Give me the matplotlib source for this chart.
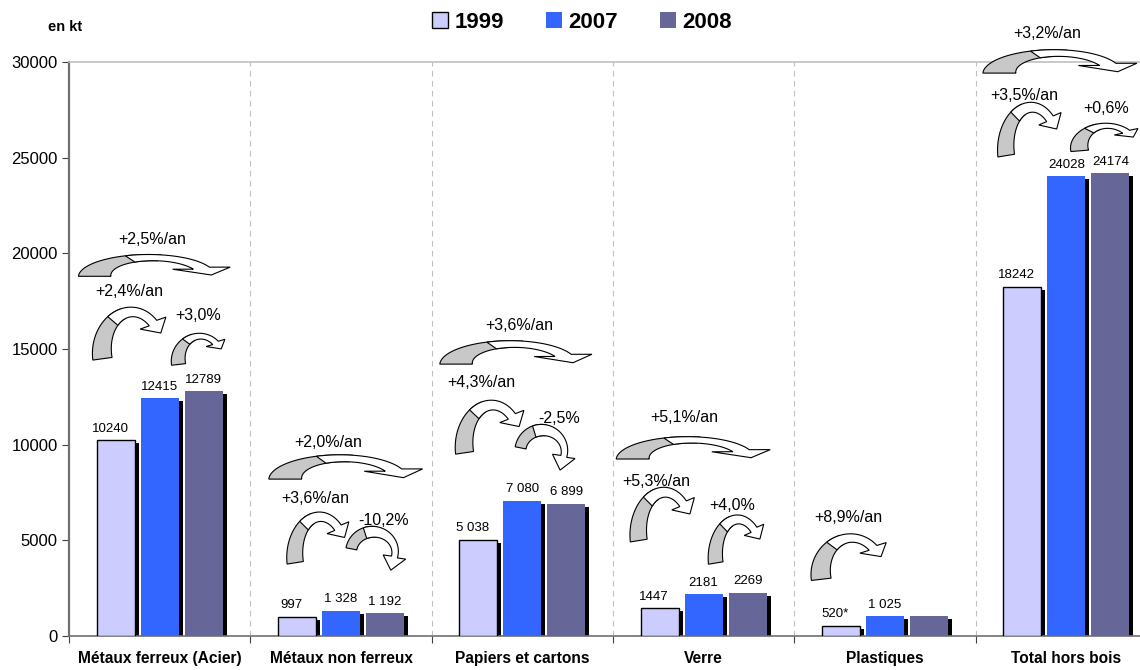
import matplotlib
matplotlib.use('Agg')
import matplotlib.pyplot as plt
import numpy as np
from matplotlib.patches import Polygon, Patch
from matplotlib.transforms import ScaledTranslation

plt.rcParams['font.family'] = ['Liberation Sans', 'DejaVu Sans']

categories = ['Métaux ferreux (Acier)', 'Métaux non ferreux', 'Papiers et cartons',
              'Verre', 'Plastiques', 'Total hors bois']
years = ['1999', '2007', '2008']
v1999 = [10240, 997, 5038, 1447, 520, 18242]
v2007 = [12415, 1328, 7080, 2181, 1025, 24028]
v2008 = [12789, 1192, 6899, 2269, 1025, 24174]
lab1999 = ['10240', '997', '5 038', '1447', '520*', '18242']
lab2007 = ['12415', '1 328', '7 080', '2181', '1 025', '24028']
lab2008 = ['12789', '1 192', '6 899', '2269', '', '24174']

# growth rates shown with the curved arrows
growth_cat = [0, 0, 0, 1, 1, 1, 2, 2, 2, 3, 3, 3, 4, 5, 5, 5]
growth_txt = ['+2,5%/an', '+2,4%/an', '+3,0%',
              '+2,0%/an', '+3,6%/an', '-10,2%',
              '+3,6%/an', '+4,3%/an', '-2,5%',
              '+5,1%/an', '+5,3%/an', '+4,0%',
              '+8,9%/an',
              '+3,2%/an', '+3,5%/an', '+0,6%']

# arrow placement: box (dx0, dx1, ybottom, ytop) relative to category, text (dx, y)
arrow_box = [(-0.44, 0.375, 18800, 20020), (-0.36, 0.055, 14270, 17300), (0.072, 0.375, 14060, 15890),
             (-0.39, 0.436, 8200, 9560), (-0.29, 0.061, 3610, 6590), (0.05, 0.353, 3450, 5800),
             (-0.447, 0.37, 14210, 15520), (-0.36, 0.028, 9350, 12440), (-0.017, 0.287, 8680, 11130),
             (-0.474, 0.353, 9250, 10500), (-0.397, -0.033, 4760, 7890), (0.033, 0.347, 3610, 6430),
             (-0.397, 0.028, 2770, 5440),
             (-0.452, 0.375, 29420, 30730), (-0.37, -0.011, 24880, 28010), (0.033, 0.414, 25240, 26860)]
arrow_kind = ['flat', 'up', 'up', 'flat', 'up', 'down', 'flat', 'up', 'down',
              'flat', 'up', 'up', 'up', 'flat', 'up', 'up']
text_pos = [(-0.04, 20700), (-0.165, 18030), (0.21, 16775),
            (-0.072, 10090), (-0.143, 7210), (0.232, 6060),
            (-0.017, 16250), (-0.226, 13270), (0.204, 11390),
            (-0.105, 11445), (-0.259, 8050), (0.16, 6795),
            (-0.204, 6170),
            (-0.105, 31510), (-0.232, 28270), (0.22, 27590)]


def arrow_shape(kind):
    # curved block arrow in a unit box: grey back part + white front with head
    if kind == 'flat':
        cx, cy, rx, ry, wx, wy = 0.48, 0.0, 0.38, 0.80, 0.11, 0.18
        t0, tg, tw, t1 = np.pi, 0.45 * np.pi, 0.62 * np.pi, 0.45
        hw, hl = 0.2, 0.3
    elif kind == 'up':
        cx, cy, rx, ry, wx, wy = 0.5, 0.2, 0.4, 0.68, 0.13, 0.12
        t0, tg, tw, t1 = 1.06 * np.pi, 0.6 * np.pi, 0.72 * np.pi, 0.8
        hw, hl = 0.2, 0.2
    else:
        cx, cy, rx, ry, wx, wy = 0.42, 0.40, 0.40, 0.45, 0.10, 0.15
        t0, tg, tw, t1 = 0.95 * np.pi, 0.45 * np.pi, 0.62 * np.pi, -0.25
        hw, hl = 0.21, 0.30

    def band(ta, tb):
        t = np.linspace(ta, tb, 40)
        f = 1 - 0.45 * (t0 - t) / (t0 - t1)
        o = np.c_[cx + (rx + wx * f) * np.cos(t), cy + (ry + wy * f) * np.sin(t)]
        i = np.c_[cx + (rx - wx * f) * np.cos(t), cy + (ry - wy * f) * np.sin(t)]
        return o, i

    o, i = band(t0, tg)
    grey = np.vstack([o, i[::-1]])
    o, i = band(tw, t1)
    c = np.array([cx + rx * np.cos(t1), cy + ry * np.sin(t1)])
    T = np.array([rx * np.sin(t1), -ry * np.cos(t1)])
    T = T / np.hypot(*T)
    N = np.array([-T[1], T[0]])
    head = np.array([c + hw * N, c + hl * T, c - hw * N])
    white = np.vstack([o, head, i[::-1]])
    return grey, white


fig = plt.figure(figsize=(11.4, 6.7), dpi=100)
ax = fig.add_axes([69 / 1140, 1 - 636 / 670, 1088 / 1140, 574 / 670])

x = np.arange(len(categories))
offs = [-0.243, 0.0, 0.243]
w = 0.21
colors = ['#CCCCFF', '#3366FF', '#666699']
shadow = ax.transData + ScaledTranslation(0.04, -0.03, fig.dpi_scale_trans)

for k, (vals, labs) in enumerate([(v1999, lab1999), (v2007, lab2007), (v2008, lab2008)]):
    ax.bar(x + offs[k], vals, w, color='black', transform=shadow, zorder=2)
    ax.bar(x + offs[k], vals, w, color=colors[k],
           edgecolor='black' if k == 0 else 'none', linewidth=1.0, zorder=3)
    for xi, v, lab in zip(x, vals, labs):
        ax.annotate(lab, (xi + offs[k], v), xytext=(-4 if k == 0 else 0, 4),
                    textcoords='offset points', ha='center', va='bottom',
                    fontsize=9.5, zorder=6)

for n in range(len(growth_txt)):
    cat = growth_cat[n]
    dx0, dx1, yb, yt = arrow_box[n]
    grey, white = arrow_shape(arrow_kind[n])
    for poly, fc in [(grey, '#C8C8C8'), (white, 'white')]:
        pts = np.c_[cat + dx0 + poly[:, 0] * (dx1 - dx0), yb + poly[:, 1] * (yt - yb)]
        ax.add_patch(Polygon(pts, closed=True, facecolor=fc, edgecolor='black',
                             linewidth=0.8, clip_on=False, zorder=4))
    tx, ty = text_pos[n]
    ax.text(cat + tx, ty, growth_txt[n], ha='center', va='center', fontsize=11.5,
            clip_on=False, zorder=6)

for b in x[:-1] + 0.5:
    ax.axvline(b, color='#C0C0C0', linestyle=(0, (5, 4)), linewidth=0.8, zorder=1)

ax.set_xlim(-0.5, 5.5)
ax.set_ylim(0, 30000)
ax.set_yticks(np.arange(0, 30001, 5000))
ax.set_xticks(np.arange(-0.5, 5.6, 1.0))
ax.set_xticklabels([])
ax.set_xticks(x, minor=True)
ax.set_xticklabels(categories, minor=True, fontsize=11.2, fontweight='bold')
ax.tick_params(axis='x', which='minor', length=0, pad=11)
ax.tick_params(axis='x', which='major', length=5, color='#404040')
ax.tick_params(axis='y', length=5, color='#404040', labelsize=12, pad=3)

ax.spines['left'].set_color('#707070')
ax.spines['left'].set_linewidth(1.6)
ax.spines['bottom'].set_color('#707070')
ax.spines['bottom'].set_linewidth(1.2)
ax.spines['top'].set_color('#C0C0C0')
ax.spines['top'].set_linewidth(1.2)
ax.spines['right'].set_visible(False)

fig.text(65 / 1140, 1 - 27 / 670, 'en kt', fontsize=10.5, fontweight='bold',
         ha='center', va='center')

handles = [Patch(facecolor=colors[0], edgecolor='black', linewidth=1.0),
           Patch(facecolor=colors[1], edgecolor='none'),
           Patch(facecolor=colors[2], edgecolor='none')]
fig.legend(handles, years, loc='center', bbox_to_anchor=(582 / 1140, 1 - 22 / 670),
           ncol=3, frameon=False, prop={'size': 16, 'weight': 'bold'},
           handlelength=0.7, handleheight=0.7, handletextpad=0.3, columnspacing=1.9)

fig.savefig('out.png', dpi=100)
